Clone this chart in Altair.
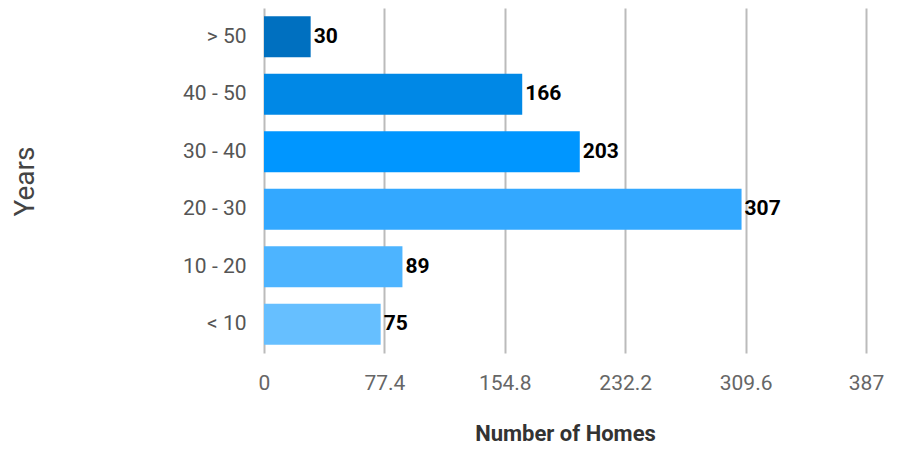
import altair as alt
import pandas as pd

years = ["> 50", "40 - 50", "30 - 40", "20 - 30", "10 - 20", "< 10"]
homes = [30, 166, 203, 307, 89, 75]
colors = ["#0070C0", "#0088E6", "#0096FF", "#33A8FF", "#4DB4FF", "#66BFFF"]
ticks = [0, 77.4, 154.8, 232.2, 309.6, 387]

df = pd.DataFrame({"Years": years, "Homes": homes, "color": colors})

base = alt.Chart(df).encode(
    y=alt.Y("Years:N", sort=years, scale=alt.Scale(paddingInner=0.29, paddingOuter=0.145),
            axis=alt.Axis(title="Years", ticks=False, domain=False, labelPadding=18,
                          labelFontSize=21, labelColor="#555555", labelFont="Roboto",
                          titleFont="Roboto", titleFontSize=28, titleFontWeight="normal",
                          titleColor="#444444", titleX=-239, titleY=173,
                          titleAlign="center", titleBaseline="middle", grid=False)),
)

bars = base.mark_bar().encode(
    x=alt.X("Homes:Q", scale=alt.Scale(domain=[0, 387], nice=False),
            axis=alt.Axis(values=ticks, title="Number of Homes", grid=True,
                          labelExpr="'' + datum.value",
                          gridColor="#BBBBBB", gridWidth=2, domain=False, ticks=False,
                          labelPadding=19, labelFontSize=21, labelColor="#666666",
                          labelFont="Roboto", labelFlush=False,
                          titleFont="Roboto", titleFontSize=22, titleFontWeight="bold",
                          titleColor="#333333", titleY=80, titleBaseline="middle")),
    color=alt.Color("color:N", scale=None),
)

text = base.mark_text(align="left", baseline="middle", dx=3, font="Roboto",
                      fontSize=21, fontWeight="bold", color="#000000").encode(
    x="Homes:Q", text="Homes:Q")

chart = (bars + text).properties(
    width=602, height=345,
    autosize=alt.AutoSizeParams(type="none"),
    padding={"left": 256, "top": 0, "right": 29, "bottom": 92},
).configure_view(stroke=None)

chart.save("out.html", embed_options={"renderer": "svg", "actions": False})
